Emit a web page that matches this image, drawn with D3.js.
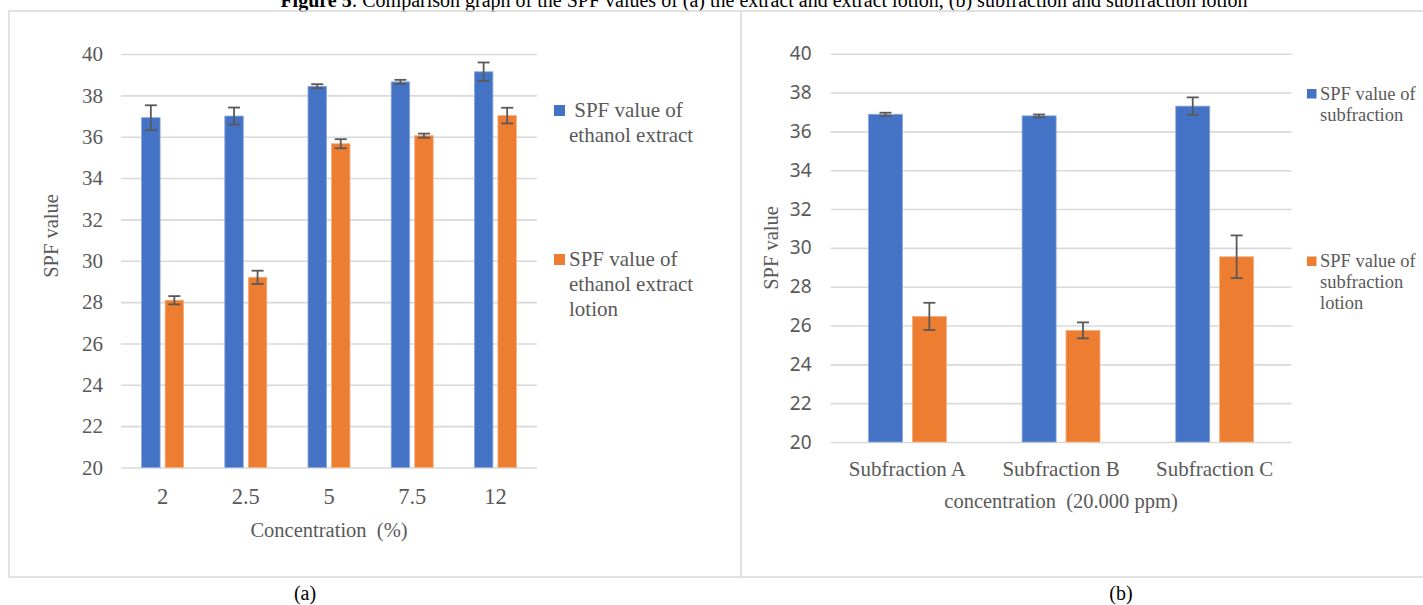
<!DOCTYPE html>
<html>
<head>
<meta charset="utf-8">
<script src="https://cdn.jsdelivr.net/npm/d3@7"></script>
<style>
  html, body { margin: 0; padding: 0; background: #fff; }
  svg { display: block; }
  text { font-family: "Liberation Serif", "Times New Roman", serif; }
</style>
</head>
<body>
<svg id="chart" width="1423" height="605"></svg>
<script>
// ---- Panel (a): ethanol extract vs. extract lotion ----
const concCategories = ["2", "2.5", "5", "7.5", "12"];
const extractSPF      = [36.92, 37.0, 38.44, 38.65, 39.14];
const extractErr      = [0.6, 0.41, 0.1, 0.1, 0.45];
const lotionSPF       = [28.09, 29.2, 35.66, 36.05, 37.02];
const lotionErr       = [0.2, 0.32, 0.22, 0.1, 0.38];

// ---- Panel (b): subfraction vs. subfraction lotion ----
const subCategories   = ["Subfraction A", "Subfraction B", "Subfraction C"];
const subSPF          = [36.88, 36.8, 37.3];
const subErr          = [0.08, 0.07, 0.45];
const subLotionSPF    = [26.47, 25.75, 29.54];
const subLotionErr    = [0.7, 0.41, 1.1];

const yTicks = [20, 22, 24, 26, 28, 30, 32, 34, 36, 38, 40];

const BLUE = "#4472C4", ORANGE = "#ED7D31";
const GRID = "#d9d9d9", TXT = "#595959", ERR = "#595959";

const svg = d3.select("#chart");

// Figure title (runs off the top edge)
const title = svg.append("text")
  .attr("x", 764).attr("y", 7)
  .attr("text-anchor", "middle")
  .attr("font-size", 20).attr("fill", "#000");
title.append("tspan").attr("font-weight", "bold").text("Figure 5");
title.append("tspan").text(": Comparison graph of the SPF values of (a) the extract and extract lotion, (b) subfraction and subfraction lotion");

// Panel frames
svg.append("rect").attr("x", 9).attr("y", 11).attr("width", 1440).attr("height", 566)
  .attr("fill", "none").attr("stroke", GRID).attr("stroke-width", 1.5);
svg.append("line").attr("x1", 741).attr("x2", 741).attr("y1", 11).attr("y2", 577)
  .attr("stroke", GRID).attr("stroke-width", 1.5);

function drawPanel(cfg) {
  const g = svg.append("g");
  const y = d3.scaleLinear().domain([20, 40]).range([cfg.yBottom, cfg.yTop]);
  const x0 = d3.scaleBand().domain(cfg.categories).range([cfg.xLeft, cfg.xRight])
    .paddingInner(cfg.groupPad).paddingOuter(cfg.groupPad / 2);
  const series = ["a", "b"];
  const x1 = d3.scaleBand().domain(series).range([0, x0.bandwidth()])
    .paddingInner(cfg.barPad).paddingOuter(0);

  // horizontal gridlines
  const yAxis = d3.axisLeft(y).tickValues(yTicks).tickSize(-(cfg.xRight - cfg.xLeft)).tickPadding(cfg.tickPad);
  const ya = g.append("g").attr("transform", `translate(${cfg.xLeft},0)`).call(yAxis);
  ya.select(".domain").remove();
  ya.selectAll(".tick line").attr("stroke", GRID).attr("stroke-width", 1.6);
  ya.selectAll(".tick text").attr("fill", TXT).attr("font-size", cfg.tickSize)
    .style("font-family", cfg.tickFont);

  // x axis labels
  const xAxis = d3.axisBottom(x0).tickSize(0).tickPadding(cfg.xLabelPad);
  const xa = g.append("g").attr("transform", `translate(0,${cfg.yBottom})`).call(xAxis);
  xa.select(".domain").remove();
  xa.selectAll(".tick text").attr("fill", TXT).attr("font-size", cfg.xLabelSize)
    .style("font-family", "'Liberation Serif', 'Times New Roman', serif");

  const rows = cfg.categories.map((c, i) => ({
    cat: c,
    bars: [
      { key: "a", v: cfg.s1[i], e: cfg.e1[i], color: BLUE, edge: "#8eaadb" },
      { key: "b", v: cfg.s2[i], e: cfg.e2[i], color: ORANGE, edge: "#f4b183" }
    ]
  }));

  const groups = g.append("g").selectAll("g").data(rows).join("g")
    .attr("transform", d => `translate(${x0(d.cat)},0)`);

  groups.selectAll("rect").data(d => d.bars).join("rect")
    .attr("x", d => x1(d.key))
    .attr("width", x1.bandwidth())
    .attr("y", d => y(d.v))
    .attr("height", d => y(20) - y(d.v))
    .attr("fill", d => d.color)
    .attr("stroke", d => d.edge).attr("stroke-width", 0.8);

  // error bars
  const eb = groups.selectAll("g.err").data(d => d.bars).join("g").attr("class", "err")
    .attr("transform", d => `translate(${x1(d.key) + x1.bandwidth() / 2},0)`)
    .attr("stroke", ERR).attr("stroke-width", 1.8);
  eb.append("line").attr("x1", 0).attr("x2", 0)
    .attr("y1", d => y(d.v + d.e)).attr("y2", d => y(d.v - d.e));
  eb.append("line").attr("x1", -6).attr("x2", 6)
    .attr("y1", d => y(d.v + d.e)).attr("y2", d => y(d.v + d.e));
  eb.append("line").attr("x1", -6).attr("x2", 6)
    .attr("y1", d => y(d.v - d.e)).attr("y2", d => y(d.v - d.e));

  // axis titles
  g.append("text")
    .attr("transform", `translate(${cfg.yTitleX},${cfg.yTitleY}) rotate(-90)`)
    .attr("text-anchor", "middle").attr("dy", "0.35em")
    .attr("font-size", 20.5).attr("fill", TXT).text("SPF value");
  g.append("text")
    .attr("x", (cfg.xLeft + cfg.xRight) / 2).attr("y", cfg.xTitleY)
    .attr("text-anchor", "middle").attr("font-size", 20.5).attr("fill", TXT)
    .style("white-space", "pre")
    .text(cfg.xTitle);

  // legend
  cfg.legend.forEach((item, i) => {
    const lg = g.append("g");
    lg.append("rect").attr("x", item.sx).attr("y", item.sy)
      .attr("width", item.ss).attr("height", item.ss).attr("fill", item.color);
    const t = lg.append("text").attr("fill", TXT).attr("font-size", cfg.legendSize)
      .style("white-space", "pre");
    item.lines.forEach((ln, j) => {
      t.append("tspan").attr("x", j === 0 ? item.tx0 : item.tx).attr("y", item.ty + j * cfg.legendLead).text(ln);
    });
  });
}

drawPanel({
  categories: concCategories,
  s1: extractSPF, e1: extractErr, s2: lotionSPF, e2: lotionErr,
  xLeft: 121, xRight: 537, yTop: 54, yBottom: 467.5,
  groupPad: 0.495, barPad: 0.213,
  tickPad: 18, tickSize: 21, tickFont: "'Liberation Serif', 'Times New Roman', serif",
  xLabelPad: 21, xLabelSize: 22.5,
  yTitleX: 51, yTitleY: 236,
  xTitle: "Concentration  (%)", xTitleY: 537,
  legendSize: 21, legendLead: 25,
  legend: [
    { color: BLUE, sx: 554, sy: 105, ss: 11, tx0: 569, tx: 569, ty: 117,
      lines: [" SPF value of", "ethanol extract"] },
    { color: ORANGE, sx: 554, sy: 254, ss: 11, tx0: 569, tx: 569, ty: 266,
      lines: ["SPF value of", "ethanol extract", "lotion"] }
  ]
});

drawPanel({
  categories: subCategories,
  s1: subSPF, e1: subErr, s2: subLotionSPF, e2: subLotionErr,
  xLeft: 830.6, xRight: 1291.5, yTop: 53.7, yBottom: 442,
  groupPad: 0.493, barPad: 0.225,
  tickPad: 19, tickSize: 19, tickFont: "'Noto Sans', 'Open Sans', sans-serif",
  xLabelPad: 19, xLabelSize: 21,
  yTitleX: 771, yTitleY: 248,
  xTitle: "concentration  (20.000 ppm)", xTitleY: 508,
  legendSize: 18.5, legendLead: 21,
  legend: [
    { color: BLUE, sx: 1307, sy: 89, ss: 9.5, tx0: 1320, tx: 1320, ty: 100,
      lines: ["SPF value of", "subfraction"] },
    { color: ORANGE, sx: 1307, sy: 256.5, ss: 9.5, tx0: 1320, tx: 1320, ty: 267,
      lines: ["SPF value of", "subfraction", "lotion"] }
  ]
});

// panel captions
svg.append("text").attr("x", 305).attr("y", 600).attr("text-anchor", "middle")
  .attr("font-size", 20).attr("fill", "#000").text("(a)");
svg.append("text").attr("x", 1121).attr("y", 600).attr("text-anchor", "middle")
  .attr("font-size", 20).attr("fill", "#000").text("(b)");
</script>
</body>
</html>
